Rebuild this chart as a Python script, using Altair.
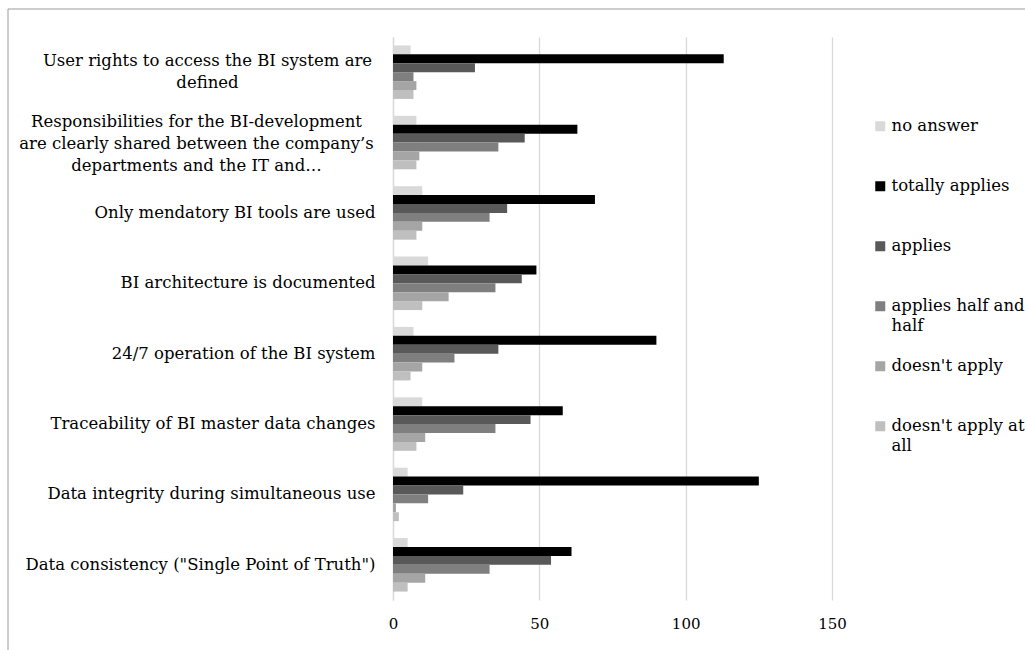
import altair as alt
import pandas as pd

categories = [
    "User rights to access the BI system are defined",
    "Responsibilities for the BI-development are clearly shared between the company’s departments and the IT and…",
    "Only mendatory BI tools are used",
    "BI architecture is documented",
    "24/7 operation of the BI system",
    "Traceability of BI master data changes",
    "Data integrity during simultaneous use",
    'Data consistency ("Single Point of Truth")',
]
series = ["no answer", "totally applies", "applies", "applies half and half",
          "doesn't apply", "doesn't apply at all"]
no_answer = [6, 8, 10, 12, 7, 10, 5, 5]
totally_applies = [113, 63, 69, 49, 90, 58, 125, 61]
applies = [28, 45, 39, 44, 36, 47, 24, 54]
half_and_half = [7, 36, 33, 35, 21, 35, 12, 33]
doesnt_apply = [8, 9, 10, 19, 10, 11, 1, 11]
not_at_all = [7, 8, 8, 10, 6, 8, 2, 5]
colors = ["#d9d9d9", "#000000", "#595959", "#7f7f7f", "#a5a5a5", "#bfbfbf"]
x_ticks = [0, 50, 100, 150]

cat_wrap = {
    categories[0]: ["User rights to access the BI system are", "defined"],
    categories[1]: ["Responsibilities for the BI-development",
                    "are clearly shared between the company’s",
                    "departments and the IT and…"],
}
leg_wrap = {
    "applies half and half": ["applies half and", "half"],
    "doesn't apply at all": ["doesn't apply at", "all"],
}

values = [no_answer, totally_applies, applies, half_and_half, doesnt_apply, not_at_all]
rows = []
for s, vals in zip(series, values):
    for c, v in zip(categories, vals):
        rows.append({"category": c, "series": s, "value": v})
df = pd.DataFrame(rows)

FONT = "DejaVu Serif"
LABEL_SIZE = 16.5


def js_str(s):
    return "'" + s.replace("\\", "\\\\").replace("'", "\\'") + "'"


def wrap_expr(mapping):
    expr = "datum.label"
    for k, lines in mapping.items():
        arr = "[" + ",".join(js_str(l) for l in lines) + "]"
        expr = f"datum.label == {js_str(k)} ? {arr} : ({expr})"
    return expr


multi_test = " || ".join(f"datum.value == {js_str(k)}" for k in cat_wrap)
test0 = f"datum.value == {js_str(categories[0])}"
test1 = f"datum.value == {js_str(categories[1])}"
pad_cond = [{"test": test0, "value": 186}, {"test": test1, "value": 197}]
off_cond = [{"test": test0, "value": -11}, {"test": test1, "value": -21}]

W, H = 439, 563

bars = alt.Chart(df).mark_bar().encode(
    x=alt.X("value:Q", scale=alt.Scale(domain=[0, 150], nice=False),
            axis=alt.Axis(values=x_ticks, title=None, grid=True, gridColor="#d9d9d9",
                          gridWidth=1.3, domain=False, ticks=False, labelPadding=16,
                          labelFlush=False,
                          labelFont=FONT, labelFontSize=15, labelColor="#000000")),
    y=alt.Y("category:N", sort=categories,
            scale=alt.Scale(paddingInner=0.24, paddingOuter=0.12),
            axis=alt.Axis(title=None, ticks=False, domain=True, domainColor="#d9d9d9",
                          domainWidth=1.3, labelLimit=0, labelFont=FONT,
                          labelFontSize=LABEL_SIZE,
                          labelColor="#000000", labelLineHeight=22,
                          labelExpr=wrap_expr(cat_wrap),
                          labelAlign={"condition": {"test": multi_test, "value": "center"},
                                      "value": "right"},
                          labelOffset={"condition": off_cond, "value": 0},
                          labelPadding={"condition": pad_cond, "value": 18})),
    yOffset=alt.YOffset("series:N", sort=series,
                        scale=alt.Scale(paddingInner=0, paddingOuter=0)),
    color=alt.Color("series:N", sort=series,
                    scale=alt.Scale(domain=series, range=colors),
                    legend=alt.Legend(title=None, orient="none", legendX=479, legendY=81,
                                      symbolType="square", symbolSize=100,
                                      symbolStrokeWidth=0, labelFont=FONT,
                                      labelFontSize=LABEL_SIZE, labelColor="#000000",
                                      labelExpr=wrap_expr(leg_wrap),
                                      gridAlign="all", rowPadding=23, labelLimit=0,
                                      labelOffset=3)),
)

frame_data = alt.Data(values=[{"k": 1}])
frame_left = alt.Chart(frame_data).mark_rule(color="#9a9a9a", strokeWidth=1).encode(
    x=alt.value(-385), y=alt.value(-28), y2=alt.value(H + 60))
frame_top = alt.Chart(frame_data).mark_rule(color="#9a9a9a", strokeWidth=1).encode(
    x=alt.value(-385), x2=alt.value(W + 250), y=alt.value(-28))

chart = alt.layer(frame_left, frame_top, bars).properties(
    width=W, height=H, autosize=alt.AutoSizeParams(type="none"),
    padding={"left": 393, "top": 37, "right": 193, "bottom": 50},
).configure(style={"guide-label": {"lineHeight": 20}}).configure_view(strokeWidth=0)

chart.save("out.html", embed_options={"renderer": "svg", "actions": False})
